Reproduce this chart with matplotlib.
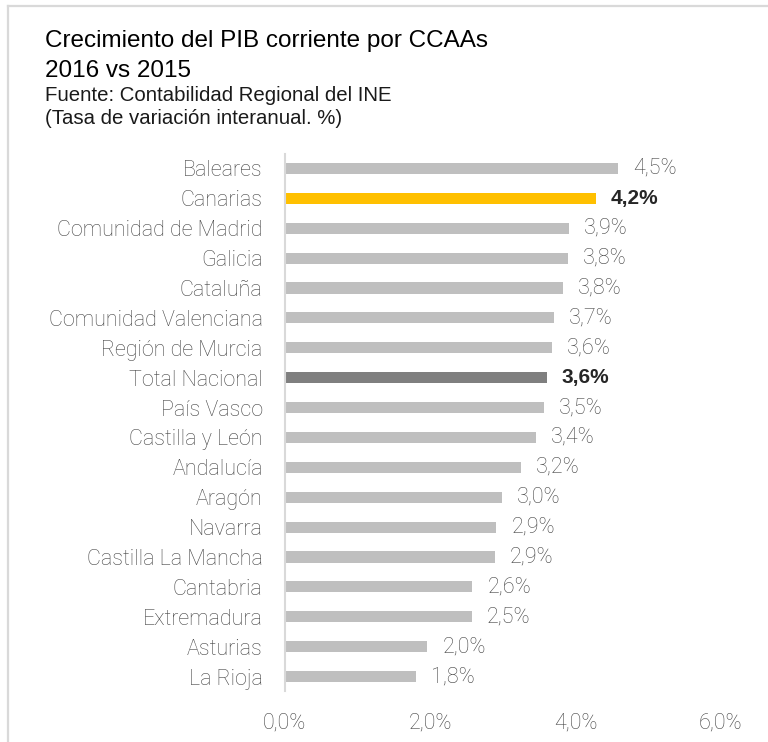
import matplotlib
matplotlib.use("Agg")
import matplotlib.pyplot as plt
from matplotlib.lines import Line2D

regions = ["Baleares", "Canarias", "Comunidad de Madrid", "Galicia", "Cataluña",
           "Comunidad Valenciana", "Región de Murcia", "Total Nacional", "País Vasco",
           "Castilla y León", "Andalucía", "Aragón", "Navarra", "Castilla La Mancha",
           "Cantabria", "Extremadura", "Asturias", "La Rioja"]
growth = [4.58, 4.28, 3.91, 3.89, 3.83, 3.70, 3.67, 3.60, 3.56,
          3.45, 3.25, 2.99, 2.91, 2.89, 2.58, 2.57, 1.96, 1.80]
value_labels = ["4,5%", "4,2%", "3,9%", "3,8%", "3,8%", "3,7%", "3,6%", "3,6%", "3,5%",
                "3,4%", "3,2%", "3,0%", "2,9%", "2,9%", "2,6%", "2,5%", "2,0%", "1,8%"]
xticks = [0, 2, 4, 6]
xtick_labels = ["0,0%", "2,0%", "4,0%", "6,0%"]
highlight = {"Canarias": "#ffc000", "Total Nacional": "#7f7f7f"}

plt.rcParams['font.family'] = ['Liberation Sans', 'DejaVu Sans']
light = ['Roboto', 'DejaVu Sans']
grey_txt = "#454545"

fig = plt.figure(figsize=(7.68, 7.42), dpi=100)
ax = fig.add_axes([0.371, 0.0681, 0.5677, 0.725])

colors = [highlight.get(r, "#bfbfbf") for r in regions]
ypos = list(range(len(regions)))
ax.barh(ypos, growth, height=0.37, color=colors)

for y, v, lab, r in zip(ypos, growth, value_labels, regions):
    if r in highlight:
        ax.annotate(lab, (v, y), xytext=(10.8, 0), textcoords="offset points",
                    va="center", ha="left", fontsize=15, color="#262626",
                    fontweight="bold")
    else:
        ax.annotate(lab, (v, y), xytext=(10.8, 0), textcoords="offset points",
                    va="center", ha="left", fontsize=15.5, color=grey_txt,
                    family=light, fontweight="light")

ax.set_xlim(0, 6)
ax.set_ylim(len(regions) - 0.5, -0.5)
ax.set_yticks(ypos)
ax.set_yticklabels(regions, fontsize=15.5, color=grey_txt, family=light, fontweight="light")
ax.set_xticks(xticks)
ax.set_xticklabels(xtick_labels, fontsize=15.5, color=grey_txt, family=light, fontweight="light")
ax.tick_params(axis="both", length=0)
ax.tick_params(axis="y", pad=16)
ax.tick_params(axis="x", pad=15)
for s in ["top", "right", "bottom"]:
    ax.spines[s].set_visible(False)
ax.spines["left"].set_color("#d9d9d9")
ax.spines["left"].set_linewidth(1.5)

# outer frame (top and left edges)
fig.add_artist(Line2D([8 / 768, 1], [1 - 5.5 / 742, 1 - 5.5 / 742],
                      transform=fig.transFigure, color="#d9d9d9", lw=1.6))
fig.add_artist(Line2D([8 / 768, 8 / 768], [0, 1 - 5.5 / 742],
                      transform=fig.transFigure, color="#d9d9d9", lw=1.6))

fig.text(45 / 768, 1 - 47 / 742, "Crecimiento del PIB corriente por CCAAs",
         fontsize=17.5, color="black", va="baseline")
fig.text(45 / 768, 1 - 77 / 742, "2016 vs 2015", fontsize=17.5, color="black", va="baseline")
fig.text(45 / 768, 1 - 101 / 742, "Fuente: Contabilidad Regional del INE",
         fontsize=14.7, color="#1a1a1a", va="baseline")
fig.text(45 / 768, 1 - 124 / 742, "(Tasa de variación interanual. %)",
         fontsize=14.7, color="#1a1a1a", va="baseline")

fig.savefig("out.png", dpi=100)
